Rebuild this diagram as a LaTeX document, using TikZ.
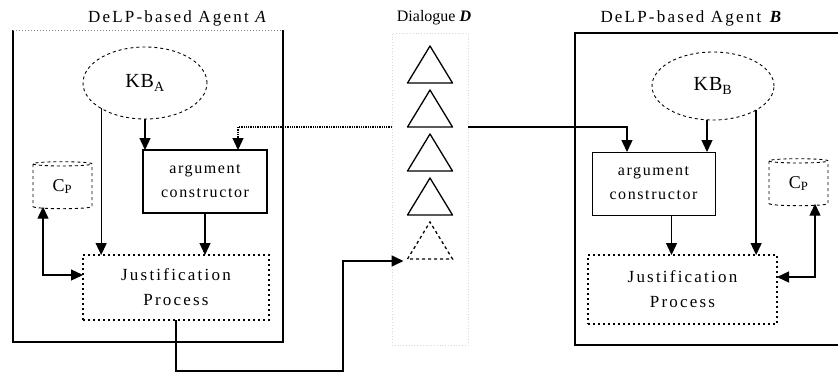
\documentclass[tikz,border=0pt]{standalone}
\usepackage{fontspec}
\setmainfont{Liberation Serif}
\usetikzlibrary{arrows.meta,shapes.geometric,calc}
\begin{document}
\begin{tikzpicture}[x=1pt,y=-1pt,
  every node/.style={inner sep=0pt, outer sep=0pt},
  arr/.style={line width=1.3pt,-{Triangle[length=12pt,width=11pt]}},
  darr/.style={line width=1.3pt,{Triangle[length=12pt,width=11pt]}-{Triangle[length=12pt,width=11pt]}},
  title/.style={font=\fontsize{17}{20}\selectfont\addfontfeature{LetterSpace=13}},
  kb/.style={ellipse, draw, dashed, line width=0.9pt, font=\fontsize{20}{22}\selectfont\addfontfeature{LetterSpace=5}},
  argbox/.style={draw, align=center, font=\fontsize{16}{24}\selectfont\addfontfeature{LetterSpace=10}},
  jbox/.style={draw, dash pattern=on 2pt off 3pt, line width=1.5pt, align=center, font=\fontsize{17}{25}\selectfont\addfontfeature{LetterSpace=13}},
  cyl/.style={cylinder, shape border rotate=90, draw, dashed, line width=0.9pt, minimum width=59, minimum height=47, aspect=0.22, font=\fontsize{18}{20}\selectfont},
  tri/.style={minimum width=45, minimum height=37},
  agentbox/.style={line width=1.7pt}
]
\useasboundingbox (0,0) rectangle (838,373);

% containers
\node[minimum width=270, minimum height=312] (boxA) at (148,186) {};
\draw[agentbox] (boxA.north west) -- (boxA.south west) -- (boxA.south east) -- (boxA.north east);
\draw[gray, dotted, line width=1pt] (boxA.north west) -- (boxA.north east);
\node[minimum width=264, minimum height=312] (boxB) at (707,189) {};
\draw[agentbox] (boxB.north east) -- (boxB.north west) -- (boxB.south west) -- (boxB.south east);
\node[draw=gray!30, dotted, line width=0.8pt, minimum width=76, minimum height=312] (col) at (430,189) {};

% titles
\node[title] (tA) at (178,18) {DeLP-based Agent \textit{A}};
\node[title] (tB) at (692,18) {DeLP-based Agent \textbf{\textit{B}}};
\node[title, font=\fontsize{16}{18}\selectfont] (tD) at (434,18) {Dialogue \textbf{\textit{D}}};

% agent A
\node[kb, minimum width=124, minimum height=72] (kbA) at (145,83) {KB\textsubscript{A}};
\node[argbox, line width=1.8pt, minimum width=124, minimum height=63] (argA) at (205,181.5) {argument\\constructor};
\node[jbox, minimum width=186, minimum height=65] (jA) at (176,287.5) {Justification\\Process};
\node[cyl] (cpA) at (62.5,186.5) {C\textsubscript{P}};

% agent B
\node[kb, minimum width=122, minimum height=68] (kbB) at (713,86) {KB\textsubscript{B}};
\node[argbox, line width=1pt, minimum width=123, minimum height=63] (argB) at (653.5,183.5) {argument\\constructor};
\node[jbox, minimum width=189, minimum height=69] (jB) at (682.5,289.5) {Justification\\Process};
\node[cyl] (cpB) at (798.5,183.5) {C\textsubscript{P}};

% dialogue triangles
\foreach \i/\y in {1/64.5,2/108.5,3/152.5,4/196.5,5/240.5}{
  \node[tri] (t\i) at (430,\y) {};
}
\foreach \i in {1,2,3,4}{
  \draw[line width=1.3pt, line join=round] (t\i.south west) -- (t\i.north) -- (t\i.south east) -- cycle;
}
\draw[line width=1.3pt, dashed] (t5.south west) -- (t5.north) -- (t5.south east) -- cycle;

% connectors in A
\draw[arr] (kbA.south) -- (kbA.south |- argA.north);
\draw[arr] (kbA.south west) -- (kbA.south west |- jA.north);
\draw[arr] (argA.south) -- (argA.south |- jA.north);
\coordinate (cpAbot) at ($(cpA.south)+(-19.5,-2)$);
\coordinate (jAin) at ($(jA.west)+(0,-12.5)$);
\draw[darr] (cpAbot) |- (jAin);

% connectors in B
\coordinate (kbBs) at ($(kbB.south)+(-6,0)$);
\draw[arr] (kbBs) -- (kbBs |- argB.north);
\draw[arr] (kbB.south east) -- (kbB.south east |- jB.north);
\coordinate (argBs) at ($(argB.south)+(18,0)$);
\draw[arr] (argBs) -- (argBs |- jB.north);
\coordinate (cpBbot) at ($(cpB.south)+(16.5,-2)$);
\coordinate (jBin) at ($(jB.east)+(0,-12.5)$);
\draw[darr] (cpBbot) |- (jBin);

% dialogue connectors
\coordinate (argAin) at ($(argA.north)+(33,0)$);
\draw[arr, densely dotted] (col.west |- t2.south) -| (argAin);
\coordinate (argBin) at ($(argB.north)+(-26.5,0)$);
\draw[arr, line width=1.4pt] (col.east |- t2.south) -| (argBin);
\coordinate (low) at (343,371);
\coordinate (t5in) at ($(t5.south west)+(-4,2)$);
\draw[arr, line width=1.6pt] (jA.south) |- (low) |- (t5in);
\end{tikzpicture}
\end{document}
